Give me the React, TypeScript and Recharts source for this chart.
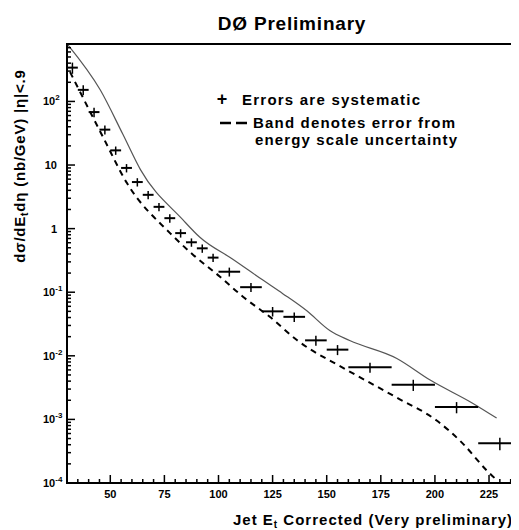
import React from "react";
import { ComposedChart, Line, Scatter, ErrorBar, XAxis, YAxis, ReferenceArea } from "recharts";

// measured points (bin centres, GeV) and dσ/dEt dη (nb/GeV)
const binCenters = [32.5, 37.5, 42.5, 47.5, 52.5, 57.5, 62.5, 67.5, 72.5, 77.5, 82.5, 87.5, 92.5, 97.5, 105, 115, 125, 135, 145, 155, 170, 190, 210, 230];
const binHalfWidths = [2.5, 2.5, 2.5, 2.5, 2.5, 2.5, 2.5, 2.5, 2.5, 2.5, 2.5, 2.5, 2.5, 2.5, 5, 5, 5, 5, 5, 5, 10, 10, 10, 10];
const crossSection = [340, 152, 68, 36, 17, 9, 5.4, 3.4, 2.2, 1.46, 0.85, 0.61, 0.49, 0.35, 0.21, 0.12, 0.05, 0.041, 0.0175, 0.0125, 0.0066, 0.0035, 0.00156, 0.00042];
const sysErrors = [0.2, 0.18, 0.17, 0.16, 0.15, 0.15, 0.15, 0.15, 0.15, 0.15, 0.15, 0.15, 0.15, 0.15, 0.16, 0.16, 0.17, 0.17, 0.18, 0.18, 0.18, 0.2, 0.2, 0.22];

// energy scale band, upper edge
const upperE = [30.5, 45.4, 55.7, 64, 83.6, 91.4, 106.6, 120.5, 129.7, 140.8, 151.4, 160.6, 182.4, 197.6, 217.4, 228.5];
const upperV = [770, 151, 31, 8.4, 1.37, 0.73, 0.33, 0.155, 0.095, 0.051, 0.025, 0.0174, 0.0091, 0.0042, 0.0018, 0.00105];

// energy scale band, lower edge
const lowerE = [31.4, 46.6, 57.7, 77.6, 88.2, 100.7, 111.3, 123.7, 136.2, 159.3, 182.4, 200.8, 212.8, 223.9, 228.5];
const lowerV = [290, 27.7, 5.2, 0.85, 0.39, 0.175, 0.085, 0.041, 0.0177, 0.006, 0.0022, 0.00096, 0.00042, 0.000158, 0.000112];

const xMajorTicks = [50, 75, 100, 125, 150, 175, 200, 225];
const yMajorTicks = [1e-4, 1e-3, 1e-2, 1e-1, 1, 10, 100];
const yMantissas = [2, 3, 4, 5, 6, 7, 8, 9];

const points = binCenters.map((e, i) => ({
  e,
  v: crossSection[i],
  xe: binHalfWidths[i],
  ye: [crossSection[i] * sysErrors[i], crossSection[i] * sysErrors[i]],
}));
const upper = upperE.map((e, i) => ({ e, up: upperV[i] }));
const lower = lowerE.map((e, i) => ({ e, lo: lowerV[i] }));

const xTicks = [...xMajorTicks];
for (let t = 35; t <= 235; t += 5) if (!xMajorTicks.includes(t)) xTicks.push(t);
const yTicks = [...yMajorTicks];
yMajorTicks.forEach((d) => yMantissas.forEach((m) => m * d < 800 && yTicks.push(m * d)));

const font = "'Liberation Sans', Arial, sans-serif";

const XTick = (props: any) => {
  const { x, y, payload } = props;
  const major = xMajorTicks.includes(payload.value);
  return (
    <g>
      <line x1={x} x2={x} y1={y} y2={y - (major ? 8 : 4)} stroke="#000" strokeWidth={1.5} />
      {major && (
        <text x={x} y={y + 15} textAnchor="middle" fontSize={11} fontWeight="bold" fontFamily={font} fill="#000">
          {payload.value}
        </text>
      )}
    </g>
  );
};

const YTick = (props: any) => {
  const { x, y, payload } = props;
  const v = payload.value;
  const major = yMajorTicks.includes(v);
  const exp = Math.round(Math.log10(v));
  let label: React.ReactNode = null;
  if (major) {
    if (v === 1 || v === 10) {
      label = (
        <text x={x - 10} y={y + 4} textAnchor="end" fontSize={11} fontWeight="bold" fontFamily={font} fill="#000">
          {v}
        </text>
      );
    } else {
      label = (
        <text x={x - 24} y={y + 4} textAnchor="start" fontSize={11} fontWeight="bold" fontFamily={font} fill="#000">
          10<tspan dy={-5} fontSize={8}>{exp}</tspan>
        </text>
      );
    }
  }
  return (
    <g>
      <line x1={x} x2={x + (major ? 8 : 4)} y1={y} y2={y} stroke="#000" strokeWidth={1.5} />
      {label}
    </g>
  );
};

export default function App() {
  return (
    <div style={{ position: "relative", width: 511, height: 522 }}>
      <ComposedChart width={511} height={522} margin={{ top: 36, right: 4, bottom: 0, left: 0 }}>
        <XAxis
          dataKey="e"
          type="number"
          domain={[30, 237]}
          allowDataOverflow
          ticks={xTicks}
          interval={0}
          height={47}
          tickSize={0}
          tickMargin={0}
          tickLine={false}
          axisLine={false}
          tick={(p: any) => <XTick {...p} />}
        />
        <YAxis
          type="number"
          scale="log"
          domain={[1e-4, 800]}
          allowDataOverflow
          ticks={yTicks}
          interval={0}
          width={59}
          tickSize={0}
          tickMargin={0}
          tickLine={false}
          axisLine={false}
          tick={(p: any) => <YTick {...p} />}
        />
        <ReferenceArea x1={30} x2={237} y1={1e-4} y2={800} fill="none" stroke="#000" strokeWidth={2} />
        <Line data={upper} dataKey="up" type="monotone" stroke="#555" strokeWidth={1.2} dot={false} isAnimationActive={false} />
        <Line data={lower} dataKey="lo" type="monotone" stroke="#000" strokeWidth={2} strokeDasharray="6 5" dot={false} isAnimationActive={false} />
        <Scatter data={points} dataKey="v" shape={() => <g />} isAnimationActive={false}>
          <ErrorBar dataKey="xe" direction="x" width={0} stroke="#000" strokeWidth={2} isAnimationActive={false} />
          <ErrorBar dataKey="ye" direction="y" width={0} stroke="#000" strokeWidth={1.5} isAnimationActive={false} />
        </Scatter>
      </ComposedChart>
      <svg width={511} height={522} style={{ position: "absolute", left: 0, top: 0, pointerEvents: "none" }}>
        <g fontFamily={font} fontWeight="bold" fill="#000">
          <text x={284} y={22} textAnchor="middle" fontSize={19} letterSpacing={0.8}>DØ Preliminary</text>
          <text x={214} y={97} textAnchor="middle" fontSize={18}>+</text>
          <text x={234} y={97} fontSize={15} textLength={178}>Errors are systematic</text>
          <line x1={212} x2={239} y1={115} y2={115} stroke="#000" strokeWidth={2.5} strokeDasharray="11 5" />
          <text x={245} y={120} fontSize={15} textLength={202}>Band denotes error from</text>
          <text x={247} y={137} fontSize={15} textLength={202}>energy scale uncertainty</text>
          <text x={225} y={517} fontSize={15} letterSpacing={1}>
            Jet E<tspan dy={3} fontSize={10}>t</tspan><tspan dy={-3}> Corrected (Very preliminary)</tspan>
          </text>
          <text x={17} y={158} textAnchor="middle" fontSize={15} letterSpacing={0.8} transform="rotate(-90 17 158)">
            dσ/dE<tspan dy={3} fontSize={10}>t</tspan><tspan dy={-3}>dη (nb/GeV)    |η|&lt;.9</tspan>
          </text>
        </g>
      </svg>
    </div>
  );
}
